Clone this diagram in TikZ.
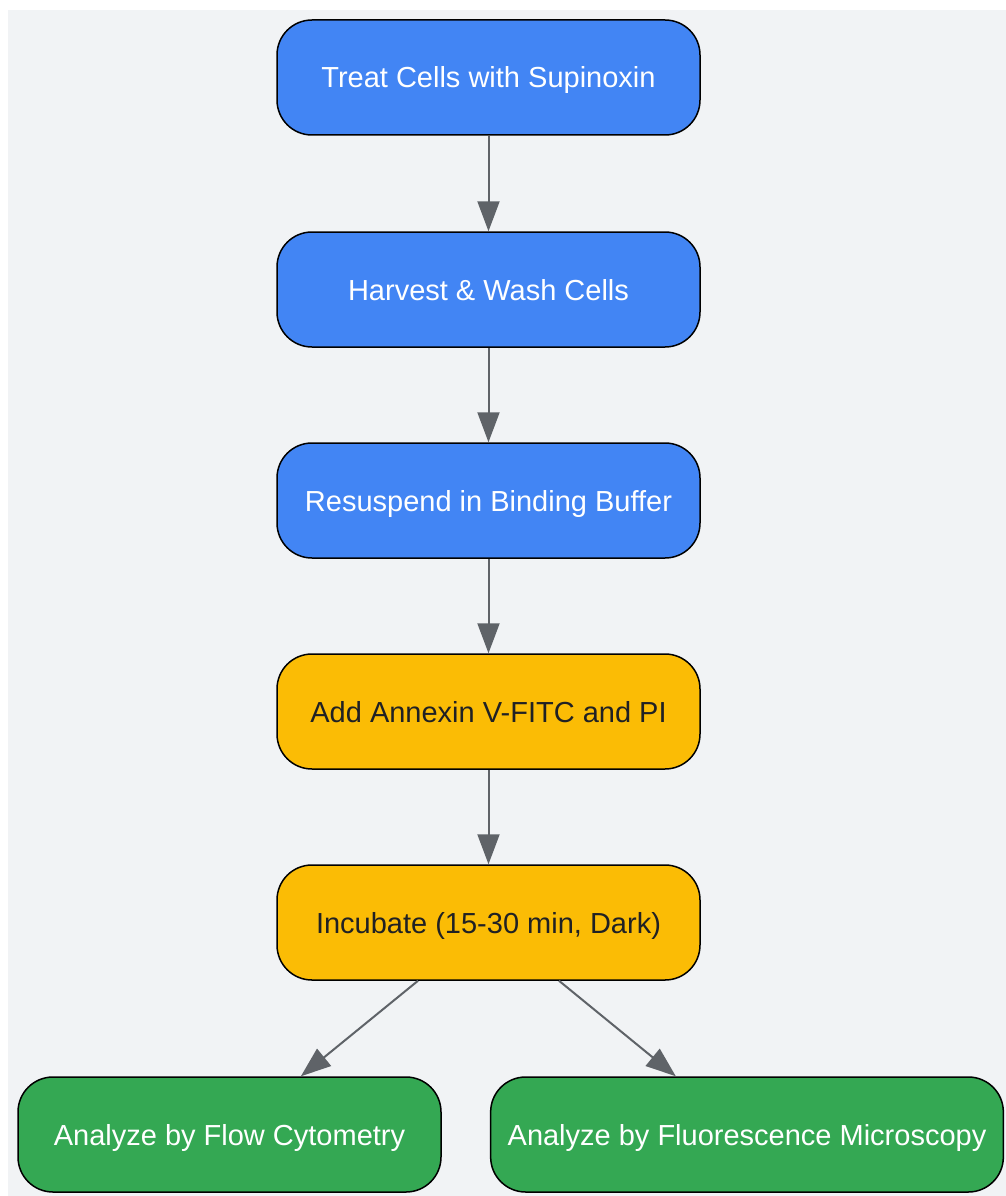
\documentclass[tikz,border=0pt]{standalone}
\usepackage{fontspec}
\setmainfont{Liberation Sans}
\usetikzlibrary{positioning}
\usetikzlibrary{arrows.meta}
\definecolor{gblue}{HTML}{4285F4}
\definecolor{gyellow}{HTML}{FBBC05}
\definecolor{ggreen}{HTML}{34A853}
\definecolor{gline}{HTML}{5F6368}
\definecolor{gback}{HTML}{F1F3F5}
\definecolor{gtext}{HTML}{202124}
\tikzset{
    mynode/.style = {rectangle, rounded corners=35pt, line width=1.5pt, draw=black, align=center, minimum width=423pt, minimum height=115pt, inner xsep=17pt, text height=21pt, text depth=0pt, font=\fontsize{29}{34}\selectfont},
    mynodeb/.style = {mynode, fill=gblue, text=white},
    mynodey/.style = {mynode, fill=gyellow, text=gtext},
    mynodeg/.style = {mynode, fill=ggreen, text=white},
    edgea/.style = {-{Triangle[length=30pt,width=22pt]}, line width=2pt, gline},
}

\begin{document}
\begin{tikzpicture}[x=1pt,y=1pt]
\path[use as bounding box] (0,0) rectangle (1006,-1196);
\fill[gback] (8,-10) rectangle (1006,-1196);
\node[mynodeb] at (488.5, -77.5) (treat) {Treat Cells with Supinoxin};
\node[mynodeb] at (488.5, -289.5) (harvest) {Harvest \& Wash Cells};
\node[mynodeb] at (488.5, -500.5) (resusp) {Resuspend in Binding Buffer};
\node[mynodey] at (488.5, -711.5) (annex) {Add Annexin V-FITC and PI};
\node[mynodey] at (488.5, -922.5) (incub) {Incubate (15-30 min, Dark)};
\node[mynodeg] at (229.5, -1134.5) (flow) {Analyze by Flow Cytometry};
\node[mynodeg] at (747.0, -1134.5) (micro) {Analyze by Fluorescence Microscopy};
%
\draw[edgea] (treat) -- (harvest);
\draw[edgea] (harvest) -- (resusp);
\draw[edgea] (resusp) -- (annex);
\draw[edgea] (annex) -- (incub);
\draw[edgea] ([xshift=-70.5pt]incub.south) -- (flow);
\draw[edgea] ([xshift=70.5pt]incub.south) -- (micro);
\end{tikzpicture}
\end{document}
